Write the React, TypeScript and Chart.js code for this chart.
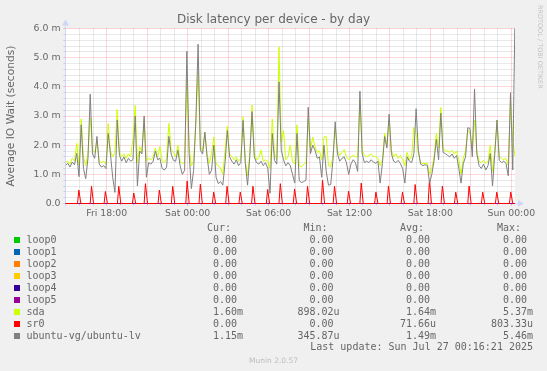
import React, { useEffect, useRef } from "react";
import { Chart, registerables } from "chart.js";

Chart.register(...registerables);

// Time axis: hours relative to Sun 00:00, one sample every 10 minutes
const START_HOUR = -33.06;
const END_HOUR = 0.2733;
const SAMPLE_STEP_HOURS = 1 / 6;

const titleText = "Disk latency per device - by day";
const yAxisTitle = "Average IO Wait (seconds)";
const xTickHours = [-30, -24, -18, -12, -6, 0];
const xTickLabels = ["Fri 18:00", "Sat 00:00", "Sat 06:00", "Sat 12:00", "Sat 18:00", "Sun 00:00"];
const yTickLabels = ["0.0", "1.0 m", "2.0 m", "3.0 m", "4.0 m", "5.0 m", "6.0 m"];

const seriesNames = ["loop0", "loop1", "loop2", "loop3", "loop4", "loop5", "sda", "sr0", "ubuntu-vg/ubuntu-lv"];
const seriesColors = ["#00CC00", "#0066B3", "#FF8000", "#FFCC00", "#330099", "#990099", "#CCFF00", "#FF0000", "#808080"];
const curValues = ["0.00", "0.00", "0.00", "0.00", "0.00", "0.00", "1.60m", "0.00", "1.15m"];
const minValues = ["0.00", "0.00", "0.00", "0.00", "0.00", "0.00", "898.02u", "0.00", "345.87u"];
const avgValues = ["0.00", "0.00", "0.00", "0.00", "0.00", "0.00", "1.64m", "71.66u", "1.49m"];
const maxValues = ["0.00", "0.00", "0.00", "0.00", "0.00", "0.00", "5.37m", "803.33u", "5.46m"];
const lastUpdateText = "Last update: Sun Jul 27 00:16:21 2025";
const footerText = "Munin 2.0.57";
const watermarkText = "RRDTOOL / TOBI OETIKER";

// values in milliseconds (m)
const sdaValues = [
  1.42, 1.45, 1.35, 1.55, 1.45, 2.06, 1.30, 2.90, 1.60, 1.30,
  1.70, 2.94, 1.85, 1.75, 2.10, 1.45, 1.40, 1.45, 1.35, 2.74,
  1.80, 1.60, 1.75, 3.22, 1.75, 1.60, 1.70, 1.55, 1.70, 1.60,
  2.20, 3.37, 1.40, 1.95, 1.75, 2.90, 1.45, 1.55, 1.50, 1.60,
  1.90, 1.60, 1.95, 1.45, 1.40, 1.55, 2.75, 1.85, 1.75, 1.60,
  2.00, 1.45, 1.37, 1.40, 4.23, 1.95, 1.30, 1.45, 2.86, 4.50,
  1.95, 1.80, 2.40, 1.70, 1.37, 1.71, 2.28, 1.35, 1.30, 1.20,
  1.00, 1.83, 2.65, 1.70, 1.60, 1.50, 1.60, 1.45, 1.55, 2.97,
  1.45, 0.95, 1.70, 3.37, 1.75, 1.50, 1.55, 1.83, 1.45, 1.50,
  1.45, 1.20, 2.90, 1.70, 1.50, 5.37, 2.10, 2.50, 1.50, 1.60,
  2.00, 1.45, 1.35, 2.70, 1.30, 1.25, 1.35, 1.40, 2.90, 1.85,
  2.28, 1.95, 1.75, 1.80, 1.50, 2.28, 2.30, 1.30, 1.25, 1.60,
  2.60, 1.80, 1.65, 1.75, 1.85, 1.60, 1.50, 1.60, 1.65, 1.60,
  1.60, 3.55, 1.83, 1.65, 1.60, 1.65, 1.70, 1.60, 1.62, 1.55,
  1.30, 1.50, 2.40, 2.00, 2.86, 1.83, 1.60, 1.70, 1.55, 1.65,
  1.50, 1.30, 1.75, 1.50, 1.60, 2.60, 2.40, 1.70, 1.40, 1.37,
  1.37, 1.38, 1.00, 1.20, 1.60, 2.40, 1.90, 3.29, 1.90, 1.80,
  1.80, 1.75, 1.83, 1.70, 1.80, 1.50, 1.00, 1.55, 1.80, 2.53,
  2.40, 1.90, 2.86, 1.83, 1.45, 1.40, 1.48, 1.37, 1.45, 2.00,
  1.10, 1.80, 2.86, 1.60, 1.55, 1.50, 1.55, 1.30, 3.50, 2.20, 1.60,
];

const ubuntuLvValues = [
  1.30, 1.38, 1.25, 1.42, 1.33, 1.72, 0.92, 2.70, 1.20, 0.85,
  1.55, 3.75, 1.70, 1.55, 2.30, 1.35, 1.25, 1.30, 1.20, 2.40,
  1.70, 0.90, 0.38, 2.86, 1.65, 1.45, 1.60, 1.40, 1.55, 1.45,
  1.50, 3.00, 0.60, 1.80, 1.70, 3.00, 0.90, 1.40, 1.35, 1.45,
  1.80, 1.50, 1.55, 1.20, 1.15, 1.25, 2.30, 1.70, 1.48, 1.45,
  1.83, 1.29, 1.00, 1.14, 5.22, 1.71, 0.51, 1.14, 2.80, 5.46,
  1.83, 1.70, 2.45, 1.60, 1.00, 1.14, 2.00, 0.90, 0.68, 0.75,
  0.63, 1.40, 2.50, 1.60, 1.45, 1.35, 1.50, 1.30, 1.40, 2.85,
  1.37, 0.63, 1.60, 3.15, 1.60, 1.40, 1.35, 1.45, 1.30, 1.40,
  1.20, 0.35, 2.40, 1.48, 1.35, 4.17, 1.83, 1.50, 1.29, 1.40,
  1.30, 1.00, 0.70, 2.40, 0.78, 0.72, 0.75, 0.80, 3.30, 1.71,
  2.00, 1.83, 1.55, 1.60, 0.90, 2.00, 1.10, 0.63, 0.65, 1.48,
  2.80, 1.71, 1.45, 1.55, 1.60, 1.40, 1.00, 1.35, 1.50, 1.40,
  1.10, 3.85, 1.71, 1.40, 1.45, 1.40, 1.50, 1.42, 1.38, 1.45,
  0.70, 1.37, 2.30, 1.90, 3.07, 1.71, 1.45, 1.40, 1.48, 1.37,
  1.20, 0.70, 1.60, 1.45, 1.40, 1.70, 3.25, 1.83, 1.35, 1.30,
  1.33, 1.30, 0.70, 1.00, 1.48, 2.20, 1.50, 3.10, 1.75, 1.71,
  1.65, 1.60, 1.70, 1.55, 1.65, 1.20, 0.70, 1.37, 1.60, 2.60,
  2.57, 1.60, 3.93, 1.71, 1.30, 1.20, 1.35, 1.15, 1.30, 1.71,
  0.60, 1.70, 2.86, 1.48, 1.40, 1.45, 1.38, 0.95, 3.80, 1.15, 6.50,
];

// sr0: short hourly spikes (hour of peak, peak value in m)
const sr0PeakHours = [
  -32.07, -31.13, -30.10, -29.11, -28.0, -27.13, -26.1, -25.11, -24.04, -23.06, -22.07,
  -21.08, -20.10, -19.16, -18.07, -17.13, -16.07, -15.11, -14.0, -13.11, -12.07, -11.13,
  -10.04, -9.11, -8.07, -7.13, -6.07, -5.11, -4.12, -3.13, -2.12, -1.08, -0.04,
];
const sr0PeakValues = [
  0.46, 0.59, 0.41, 0.59, 0.36, 0.68, 0.46, 0.59, 0.77, 0.66, 0.39,
  0.59, 0.39, 0.59, 0.48, 0.68, 0.50, 0.59, 0.80, 0.59, 0.42, 0.70,
  0.39, 0.60, 0.39, 0.65, 0.80, 0.60, 0.39, 0.60, 0.39, 0.39, 0.39,
];

const FONT = "DejaVu Sans";
const MONO = "DejaVu Sans Mono";
const TEXT_COLOR = "#666666";
const AXIS_COLOR = "#CFD6F8";
const GRID_COLOR = "rgba(140,140,140,0.38)";
const MGRID_COLOR = "rgba(255,0,0,0.3)";

function sampleSeries(values: number[]) {
  return values.map((v, i) => ({ x: START_HOUR + i * SAMPLE_STEP_HOURS, y: v }));
}

function sr0Series() {
  const pts: { x: number; y: number }[] = [{ x: START_HOUR, y: 0 }];
  sr0PeakHours.forEach((h, i) => {
    pts.push({ x: h - 0.1, y: 0 });
    pts.push({ x: h, y: sr0PeakValues[i] });
    pts.push({ x: h + 0.15, y: 0 });
  });
  pts.push({ x: END_HOUR, y: 0 });
  return pts;
}

const rrdPlugin = {
  id: "rrdLook",
  beforeDatasetsDraw(chart: any) {
    const { ctx, chartArea: a, scales } = chart;
    const x = scales.x;
    const y = scales.y;
    ctx.save();
    ctx.fillStyle = "#ffffff";
    ctx.fillRect(a.left, a.top, a.right - a.left, a.bottom - a.top);
    ctx.lineWidth = 1;
    // horizontal grid: minor every 0.2 m, major every 1 m
    for (let k = 1; k <= 30; k++) {
      const v = k * 0.2;
      const major = k % 5 === 0;
      const py = Math.round(y.getPixelForValue(v) - 0.5) + 0.5;
      ctx.strokeStyle = major ? MGRID_COLOR : GRID_COLOR;
      ctx.setLineDash([1, 1]);
      ctx.beginPath();
      ctx.moveTo(a.left + 1, py);
      ctx.lineTo(a.right, py);
      ctx.stroke();
      ctx.setLineDash([]);
      ctx.beginPath();
      ctx.moveTo(a.left - 2, py);
      ctx.lineTo(a.left, py);
      ctx.stroke();
    }
    // vertical grid: minor every hour, major every 3 hours
    for (let h = Math.ceil(START_HOUR); h <= Math.floor(END_HOUR); h++) {
      const px = Math.round(x.getPixelForValue(h) - 0.5) + 0.5;
      if (px < a.left + 1.5) continue;
      const major = ((h % 3) + 3) % 3 === 0;
      ctx.strokeStyle = major ? MGRID_COLOR : GRID_COLOR;
      ctx.setLineDash([1, 1]);
      ctx.beginPath();
      ctx.moveTo(px, a.top);
      ctx.lineTo(px, a.bottom);
      ctx.stroke();
      ctx.setLineDash([]);
      ctx.beginPath();
      ctx.moveTo(px, a.bottom);
      ctx.lineTo(px, a.bottom + 2);
      ctx.stroke();
    }
    // axes with arrows
    ctx.strokeStyle = AXIS_COLOR;
    ctx.fillStyle = AXIS_COLOR;
    const ax = a.left;
    const ay = a.bottom;
    ctx.beginPath();
    ctx.moveTo(a.left - 3, ay);
    ctx.lineTo(a.right + 3, ay);
    ctx.stroke();
    ctx.beginPath();
    ctx.moveTo(a.right + 3, ay - 3.5);
    ctx.lineTo(a.right + 9, ay);
    ctx.lineTo(a.right + 3, ay + 3.5);
    ctx.closePath();
    ctx.fill();
    ctx.beginPath();
    ctx.moveTo(ax, a.bottom + 3);
    ctx.lineTo(ax, a.top - 3);
    ctx.stroke();
    ctx.beginPath();
    ctx.moveTo(ax - 3.5, a.top - 3);
    ctx.lineTo(ax, a.top - 9);
    ctx.lineTo(ax + 3.5, a.top - 3);
    ctx.closePath();
    ctx.fill();
    ctx.restore();
  },
  afterDraw(chart: any) {
    const { ctx } = chart;
    ctx.save();
    ctx.fillStyle = TEXT_COLOR;
    ctx.textBaseline = "alphabetic";
    // title
    ctx.font = `12px "${FONT}"`;
    ctx.textAlign = "center";
    ctx.fillText(titleText, 273.5, 22.5);
    // watermark
    ctx.save();
    ctx.fillStyle = "#c4c4c4";
    ctx.font = `6.5px "${FONT}"`;
    ctx.translate(537.5, 5);
    ctx.rotate(Math.PI / 2);
    ctx.textAlign = "left";
    ctx.fillText(watermarkText, 0, 0);
    ctx.restore();
    // legend table
    ctx.font = `10px "${MONO}"`;
    const colRight = [237, 333.5, 430, 527];
    const headers = ["Cur:", "Min:", "Avg:", "Max:"];
    ctx.textAlign = "left";
    headers.forEach((hd, i) => ctx.fillText(hd, colRight[i] - 30, 231));
    const cols = [curValues, minValues, avgValues, maxValues];
    seriesNames.forEach((name, r) => {
      const base = 243 + r * 12;
      ctx.fillStyle = seriesColors[r];
      ctx.fillRect(14, base - 6, 6, 6);
      ctx.fillStyle = TEXT_COLOR;
      ctx.textAlign = "left";
      ctx.fillText(name, 26.5, base);
      cols.forEach((col, c) => {
        const s = col[r];
        const unit = /[a-zA-Z]$/.test(s) ? s.slice(-1) : "";
        const num = unit ? s.slice(0, -1) : s;
        ctx.textAlign = "right";
        ctx.fillText(num, colRight[c], base);
        if (unit) {
          ctx.textAlign = "left";
          ctx.fillText(unit, colRight[c], base);
        }
      });
    });
    ctx.textAlign = "right";
    ctx.fillText(lastUpdateText, 533, 350);
    // footer
    ctx.fillStyle = "#bdbdbd";
    ctx.font = `7.5px "${FONT}"`;
    ctx.textAlign = "center";
    ctx.fillText(footerText, 273.5, 363);
    ctx.restore();
  },
};

export default function App() {
  const ref = useRef<HTMLCanvasElement | null>(null);
  useEffect(() => {
    document.body.style.margin = "0";
    const datasets: any[] = [];
    seriesNames.forEach((name, i) => {
      let data: { x: number; y: number }[];
      let order: number;
      if (name === "sda") {
        data = sampleSeries(sdaValues);
        order = 2;
      } else if (name === "sr0") {
        data = sr0Series();
        order = 1;
      } else if (name === "ubuntu-vg/ubuntu-lv") {
        data = sampleSeries(ubuntuLvValues);
        order = 0;
      } else {
        data = [
          { x: START_HOUR, y: 0 },
          { x: END_HOUR, y: 0 },
        ];
        order = 10 - i;
      }
      datasets.push({
        label: name,
        data,
        order,
        borderColor: seriesColors[i],
        backgroundColor: seriesColors[i],
        borderWidth: 1,
        pointRadius: 0,
        tension: 0,
        fill: false,
        clip: { left: 0, top: 0, right: 0, bottom: 1 },
      });
    });
    const chart = new Chart(ref.current as HTMLCanvasElement, {
      type: "line",
      data: { datasets },
      options: {
        responsive: false,
        animation: false,
        devicePixelRatio: 1,
        events: [],
        layout: { padding: { left: 0, right: 32, top: 28.5, bottom: 0 } },
        plugins: {
          legend: { display: false },
          tooltip: { enabled: false },
          title: { display: false },
        },
        scales: {
          x: {
            type: "linear",
            min: START_HOUR,
            max: END_HOUR,
            afterFit: (s: any) => {
              s.height = 167.5;
            },
            afterBuildTicks: (s: any) => {
              s.ticks = xTickHours.map((v) => ({ value: v }));
            },
            grid: { display: false, drawTicks: false },
            border: { display: false },
            ticks: {
              autoSkip: false,
              maxRotation: 0,
              padding: 4,
              color: TEXT_COLOR,
              font: { family: FONT, size: 9.33 },
              callback: (_v: any, i: number) => xTickLabels[i],
            },
          },
          y: {
            type: "linear",
            min: 0,
            max: 6,
            afterFit: (s: any) => {
              s.width = 65.5;
            },
            grid: { display: false, drawTicks: false },
            border: { display: false },
            ticks: {
              stepSize: 1,
              padding: 5,
              color: TEXT_COLOR,
              font: { family: FONT, size: 9.33 },
              callback: (_v: any, i: number) => yTickLabels[i],
            },
            title: {
              display: true,
              text: yAxisTitle,
              color: TEXT_COLOR,
              font: { family: FONT, size: 10.67 },
              padding: { top: 5, bottom: 0 },
            },
          },
        },
      } as any,
      plugins: [rrdPlugin],
    });
    return () => chart.destroy();
  }, []);
  return (
    <div style={{ position: "absolute", left: 0, top: 0, width: 547, height: 371, background: "#F0F0F0" }}>
      <canvas ref={ref} width={547} height={371} style={{ display: "block", width: 547, height: 371 }} />
    </div>
  );
}
